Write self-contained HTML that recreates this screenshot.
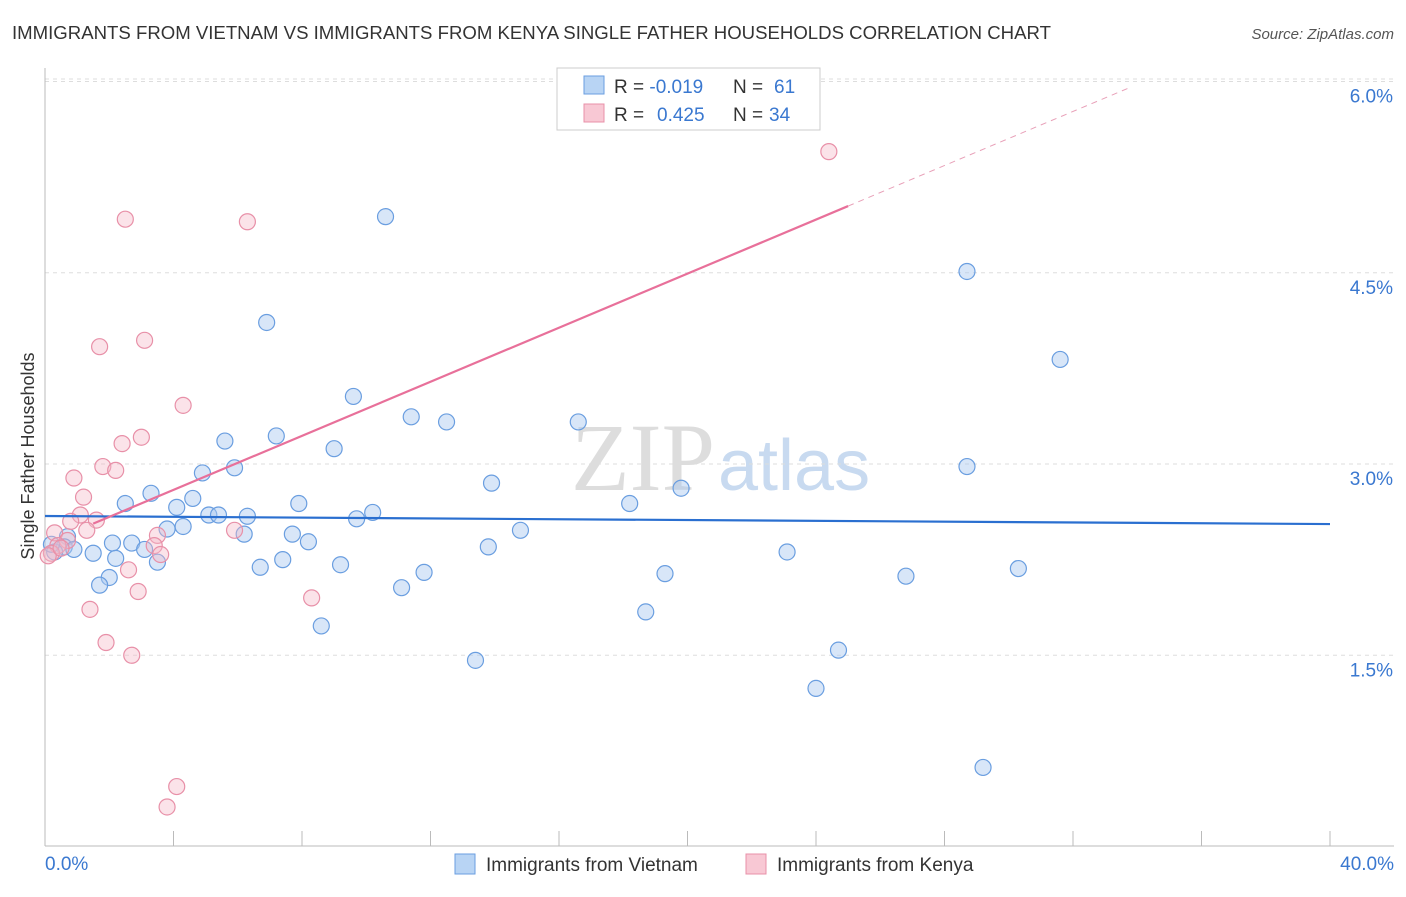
<!DOCTYPE html>
<html><head><meta charset="utf-8"><style>
body{margin:0;background:#fff;font-family:"Liberation Sans",sans-serif}
#wrap{position:relative;width:1406px;height:892px}
</style></head><body>
<div id="wrap">
<svg id="chart" width="1406" height="892">
<text x="12" y="39" font-size="18.6" fill="#333">IMMIGRANTS FROM VIETNAM VS IMMIGRANTS FROM KENYA SINGLE FATHER HOUSEHOLDS CORRELATION CHART</text>
<text x="1394" y="39" font-size="15" fill="#555" font-style="italic" text-anchor="end">Source: ZipAtlas.com</text>
<text x="715" y="490" font-size="96" fill="#ddd" text-anchor="end" font-family="Liberation Serif,serif">ZIP</text>
<text x="718" y="490" font-size="72" fill="#c8daf0">atlas</text>
<text transform="translate(34,456) rotate(-90)" font-size="18" fill="#333" text-anchor="middle">Single Father Households</text>
<g id="grid"></g><g id="pts"></g><g id="lines"></g>
<g>
<rect x="557" y="68" width="263" height="62" fill="#fff" stroke="#ccc"/>
<rect x="584" y="76" width="20" height="18" fill="#b8d4f4" stroke="#6a9ee0"/>
<rect x="584" y="104" width="20" height="18" fill="#f8c8d4" stroke="#e890a8"/>
<text x="614" y="93" font-size="19" fill="#333">R = <tspan fill="#3a78d0">-0.019</tspan><tspan x="733">N = </tspan><tspan fill="#3a78d0" x="774">61</tspan></text>
<text x="614" y="121" font-size="19" fill="#333">R = <tspan fill="#3a78d0" x="657">0.425</tspan><tspan x="733">N = </tspan><tspan fill="#3a78d0" x="769">34</tspan></text>
</g>
<g>
<rect x="455" y="854" width="20" height="20" fill="#b8d4f4" stroke="#6a9ee0"/>
<text x="486" y="871" font-size="19" fill="#333">Immigrants from Vietnam</text>
<rect x="746" y="854" width="20" height="20" fill="#f8c8d4" stroke="#e890a8"/>
<text x="777" y="871" font-size="19" fill="#333">Immigrants from Kenya</text>
</g>
</svg></div>
<script>
const xTicks=[0,4,8,12,16,20,24,28,32,36,40];
const yTicks=[1.5,3.0,4.5,6.0];
const blueX=[10.6,28.7,6.9,31.6,9.6,11.4,12.5,16.6,5.6,7.2,9.0,28.7,5.9,4.9,13.9,19.8,3.3,4.6,2.5,7.9,18.2,4.1,5.1,5.4,6.3,10.2,9.7,4.3,3.8,14.8,7.7,8.2,6.2,2.7,2.1,0.7,0.6,0.9,1.5,3.1,13.8,23.1,2.2,3.5,0.3,0.2,7.4,9.2,6.7,11.8,30.3,19.3,26.8,2.0,1.7,11.1,18.7,8.6,24.7,13.4,24.0,29.2];
const blueY=[4.94,4.51,4.11,3.82,3.53,3.37,3.33,3.33,3.18,3.22,3.12,2.98,2.97,2.93,2.85,2.81,2.77,2.73,2.69,2.69,2.69,2.66,2.60,2.60,2.59,2.62,2.57,2.51,2.49,2.48,2.45,2.39,2.45,2.38,2.38,2.43,2.35,2.33,2.30,2.33,2.35,2.31,2.26,2.23,2.31,2.37,2.25,2.21,2.19,2.15,2.18,2.14,2.12,2.11,2.05,2.03,1.84,1.73,1.54,1.46,1.24,0.62];
const pinkX=[24.4,2.5,6.3,1.7,3.1,4.3,3.0,2.4,1.8,2.2,0.9,1.2,1.1,1.6,0.8,0.3,1.3,5.9,3.5,3.4,3.6,0.7,0.4,0.2,0.1,2.6,8.3,2.9,1.4,1.9,2.7,4.1,3.8,0.5];
const pinkY=[5.45,4.92,4.90,3.92,3.97,3.46,3.21,3.16,2.98,2.95,2.89,2.74,2.60,2.56,2.55,2.46,2.48,2.48,2.44,2.36,2.29,2.40,2.36,2.30,2.28,2.17,1.95,2.00,1.86,1.60,1.50,0.47,0.31,2.34];
const blueFit=[2.592,2.529];
const pinkFit=[2.373,0.106];
const ns="http://www.w3.org/2000/svg";
const X=v=>45+v*32.125, Y=v=>464-(v-3)*127.5;
function mk(p,t,a){const e=document.createElementNS(ns,t);for(const k in a)e.setAttribute(k,a[k]);document.getElementById(p).appendChild(e);return e;}
yTicks.forEach(t=>{
 const l=mk('grid','line',{x1:45,x2:1394,y1:Y(t),y2:Y(t),stroke:'#ddd','stroke-dasharray':'4,4'});
 
 
 const tx=mk('grid','text',{x:1393,y:Y(t)+21,'font-size':19,fill:'#3a78d0','text-anchor':'end'});tx.textContent=t.toFixed(1)+'%';
 
 
});
mk('grid','line',{x1:45,x2:1394,y1:79,y2:79,stroke:'#ddd','stroke-dasharray':'4,4'});
mk('grid','line',{x1:45,x2:45,y1:68,y2:846,stroke:'#bbb'});
mk('grid','line',{x1:45,x2:1394,y1:846,y2:846,stroke:'#bbb'});
xTicks.forEach(t=>{
 const l=mk('grid','line',{x1:X(t),x2:X(t),y1:831,y2:846,stroke:'#bbb'});
 
 
});
[[0,'0.0%','start',45],[40,'40.0%','end',1394]].forEach(a=>{const tx=mk('grid','text',{x:a[3],y:870,'font-size':19,fill:'#3a78d0','text-anchor':a[2]});tx.textContent=a[1];
 
 });
blueX.forEach((v,i)=>{const c=mk('pts','circle',{cx:X(v),cy:Y(blueY[i]),r:8,fill:'rgba(168,200,240,0.45)',stroke:'#6a9ee0','stroke-width':1.2});
 
 });
pinkX.forEach((v,i)=>{const c=mk('pts','circle',{cx:X(v),cy:Y(pinkY[i]),r:8,fill:'rgba(244,184,200,0.4)',stroke:'#e890a8','stroke-width':1.2});
 
 });
const bl=mk('lines','line',{x1:X(0),y1:Y(blueFit[0]),x2:X(40),y2:Y(blueFit[1]),stroke:'#2a6fd0','stroke-width':2.2});


const pf=v=>pinkFit[0]+pinkFit[1]*v;
const pl=mk('lines','line',{x1:X(1.5),y1:Y(pf(1.5)),x2:X(25),y2:Y(pf(25)),stroke:'#e8709a','stroke-width':2.2});


const pd=mk('lines','line',{x1:X(25),y1:Y(pf(25)),x2:X(33.8),y2:Y(pf(33.8)),stroke:'#e8a0b8','stroke-width':1,'stroke-dasharray':'6,5'});


</script>
</body></html>
